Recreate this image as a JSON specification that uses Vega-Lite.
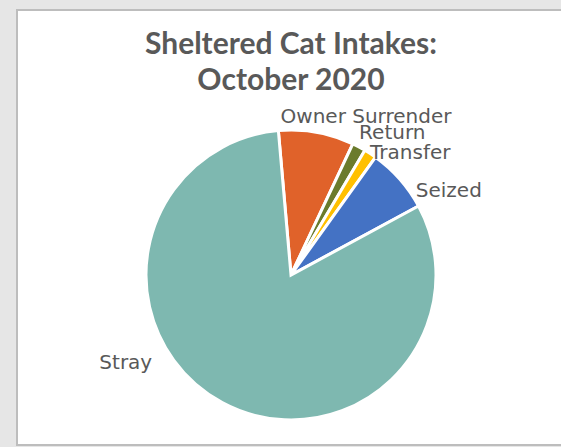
{
  "$schema": "https://vega.github.io/schema/vega-lite/v6.json",
  "width": 548,
  "height": 435,
  "autosize": {"type": "none"},
  "padding": {"left": 17, "top": 10, "right": 0, "bottom": 2},
  "background": "#e6e6e6",
  "view": {"fill": "white", "stroke": "#bdbdbd", "strokeWidth": 2},
  "title": {
    "text": ["Sheltered Cat Intakes:", "October 2020"],
    "font": "Lato",
    "fontSize": 30,
    "fontWeight": "bold",
    "color": "#595959",
    "anchor": "middle",
    "frame": "group",
    "orient": "top",
    "baseline": "top",
    "offset": -86,
    "lineHeight": 36
  },
  "data": {
    "values": [
      {"category": "Owner Surrender", "share": 8.4},
      {"category": "Return", "share": 1.5},
      {"category": "Transfer", "share": 1.4},
      {"category": "Seized", "share": 7.2},
      {"category": "Stray", "share": 81.5}
    ]
  },
  "transform": [{"window": [{"op": "row_number", "as": "row"}]}],
  "encoding": {
    "theta": {"field": "share", "type": "quantitative", "stack": true, "scale": {"range": [-0.0873, 6.1959]}},
    "order": {"field": "row", "type": "quantitative"},
    "color": {
      "field": "category",
      "type": "nominal",
      "scale": {"domain": ["Owner Surrender", "Return", "Transfer", "Seized", "Stray"], "range": ["#E0622A", "#6B7B2C", "#FFC000", "#4472C4", "#7EB8B0"]},
      "legend": null
    }
  },
  "layer": [
    {"mark": {"type": "arc", "radius": 145, "stroke": "white", "strokeWidth": 3, "y": {"expr": "height/2 + 47.5"}}},
    {
      "mark": {
        "type": "text",
        "font": "DejaVu Sans",
        "fontSize": 20,
        "fill": "#595959",
        "align": "center",
        "baseline": "alphabetic",
        "y": {"expr": "height/2 + 47.5"},
        "dx": {"expr": "datum.category === 'Owner Surrender' ? 46 : datum.category === 'Return' ? 24 : datum.category === 'Transfer' ? 29 : datum.category === 'Seized' ? 34 : -87"},
        "dy": {"expr": "datum.category === 'Owner Surrender' ? 10 : datum.category === 'Return' ? 10 : datum.category === 'Transfer' ? 22 : datum.category === 'Seized' ? 31 : -51"}
      },
      "encoding": {
        "radius": {"value": 165},
        "text": {"field": "category"},
        "color": {"value": "#595959"}
      }
    }
  ]
}
